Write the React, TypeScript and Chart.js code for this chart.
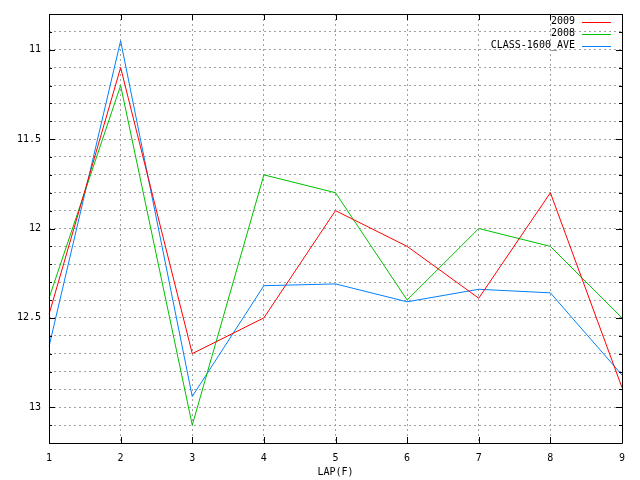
import React, { useEffect, useRef } from "react";
import { Chart, registerables } from "chart.js";

Chart.register(...registerables);

const laps = ["1", "2", "3", "4", "5", "6", "7", "8", "9"];
const series2009 = [12.48, 11.1, 12.7, 12.5, 11.9, 12.1, 12.39, 11.8, 12.89];
const series2008 = [12.39, 11.2, 13.1, 11.7, 11.8, 12.4, 12.0, 12.1, 12.5];
const seriesAve = [12.66, 10.95, 12.94, 12.32, 12.31, 12.41, 12.34, 12.36, 12.82];
const seriesNames = ["2009", "2008", "CLASS-1600_AVE"];
const seriesColors = ["#ff0000", "#00c000", "#0080ff"];
const yMin = 10.8;
const yMax = 13.2;
const yStep = 0.1;
const xTitle = "LAP(F)";

const FONT = "DejaVu Sans Mono";

const isMajor = (v: number) => Math.abs(v * 2 - Math.round(v * 2)) < 1e-6;

const framePlugin = {
  id: "gnuFrame",
  afterDraw(chart: any) {
    const { ctx, chartArea } = chart;
    const { left, right, top, bottom } = chartArea;
    const ys = chart.scales.y;
    const xs = chart.scales.x;
    ctx.save();
    ctx.strokeStyle = "#000";
    ctx.lineWidth = 1;
    ctx.beginPath();
    ctx.rect(Math.round(left) + 0.5, Math.round(top) + 0.5, Math.round(right - left), Math.round(bottom - top));
    ctx.stroke();
    // y tick marks (inward, both sides)
    ctx.beginPath();
    ys.ticks.forEach((t: any) => {
      const y = Math.round(ys.getPixelForValue(t.value)) + 0.5;
      const len = isMajor(t.value) ? 6 : 3;
      ctx.moveTo(left, y);
      ctx.lineTo(left + len, y);
      ctx.moveTo(right, y);
      ctx.lineTo(right - len, y);
    });
    // x tick marks
    laps.forEach((_, i) => {
      const x = Math.round(xs.getPixelForValue(i)) + 0.5;
      ctx.moveTo(x, bottom);
      ctx.lineTo(x, bottom - 6);
      ctx.moveTo(x, top);
      ctx.lineTo(x, top + 6);
    });
    ctx.stroke();
    // legend
    ctx.font = `10px "${FONT}"`;
    ctx.textAlign = "right";
    ctx.textBaseline = "middle";
    chart.data.datasets.forEach((ds: any, i: number) => {
      const y = 21.5 + 12 * i;
      ctx.fillStyle = "#000";
      ctx.fillText(ds.label, 575, y);
      ctx.strokeStyle = ds.borderColor;
      ctx.beginPath();
      ctx.moveTo(582, Math.round(y) + 0.5);
      ctx.lineTo(611, Math.round(y) + 0.5);
      ctx.stroke();
    });
    ctx.restore();
  },
};

export default function App() {
  const ref = useRef<HTMLCanvasElement>(null);
  useEffect(() => {
    if (!ref.current) return;
    const data = [series2009, series2008, seriesAve];
    const chart = new Chart(ref.current, {
      type: "line",
      data: {
        labels: laps,
        datasets: data.map((d, i) => ({
          label: seriesNames[i],
          data: d,
          borderColor: seriesColors[i],
          backgroundColor: seriesColors[i],
          borderWidth: 1,
          pointRadius: 0,
          tension: 0,
          fill: false,
        })),
      },
      options: {
        animation: false,
        responsive: false,
        devicePixelRatio: 1,
        layout: { padding: { left: 0, top: 11, right: 18, bottom: 0 } },
        plugins: { legend: { display: false }, tooltip: { enabled: false } },
        scales: {
          x: {
            type: "category",
            offset: false,
            afterFit: (s: any) => {
              s.height = 37;
            },
            grid: {
              offset: false,
              color: "#a0a0a0",
              drawTicks: false,
              lineWidth: 1,
            },
            border: { display: false, dash: [2, 3] },
            ticks: {
              color: "#000",
              padding: 9,
              font: { family: FONT, size: 10 },
              maxRotation: 0,
              autoSkip: false,
            },
            title: {
              display: true,
              text: xTitle,
              color: "#000",
              font: { family: FONT, size: 10 },
              padding: { top: 0, bottom: 2 },
            },
          },
          y: {
            type: "linear",
            reverse: true,
            min: yMin,
            max: yMax,
            afterFit: (s: any) => {
              s.width = 49;
            },
            grid: {
              color: "#a0a0a0",
              drawTicks: false,
              lineWidth: 1,
            },
            border: { display: false, dash: [2, 3] },
            ticks: {
              stepSize: yStep,
              color: "#000",
              padding: 8,
              autoSkip: false,
              font: { family: FONT, size: 10 },
              callback: (v: any) => (isMajor(Number(v)) && Number(v) > yMin + 1e-6 && Number(v) < yMax - 1e-6 ? String(Math.round(Number(v) * 2) / 2) : ""),
            },
          },
        },
      },
      plugins: [framePlugin],
    } as any);
    return () => chart.destroy();
  }, []);
  return (
    <div style={{ position: "fixed", left: 0, top: 0, width: 640, height: 480, background: "#fff" }}>
      <canvas ref={ref} width={640} height={480} />
    </div>
  );
}
